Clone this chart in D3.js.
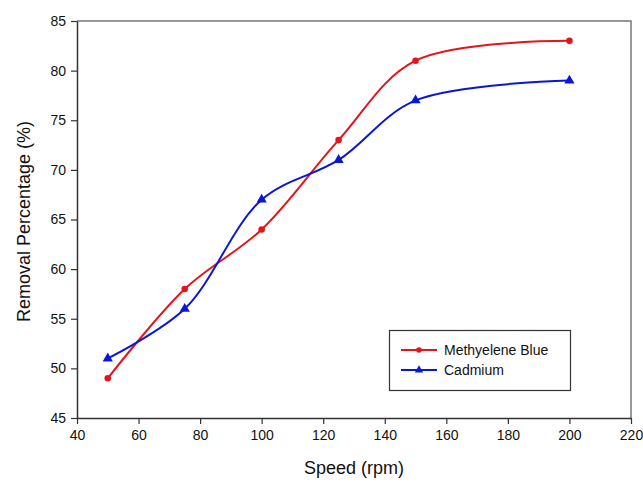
<!DOCTYPE html>
<html>
<head>
<meta charset="utf-8">
<script src="https://cdn.jsdelivr.net/npm/d3@7"></script>
<style>
  html, body { margin: 0; padding: 0; background: #fff; }
  svg { display: block; font-family: "Liberation Sans", Arial, sans-serif; }
</style>
</head>
<body>
<svg id="chart" width="643" height="483"></svg>
<script>
// Removal percentage against agitation speed
const speeds = [50, 75, 100, 125, 150, 200];
const methyleneBlue = [49, 58, 64, 73, 81, 83];
const cadmium = [51, 56, 67, 71, 77, 79];
const xTicks = [40, 60, 80, 100, 120, 140, 160, 180, 200, 220];
const yTicks = [45, 50, 55, 60, 65, 70, 75, 80, 85];
const seriesNames = ["Methyelene Blue", "Cadmium"];
const seriesColors = ["#e3141c", "#0a16d6"];

const svg = d3.select("#chart");
const plotLeft = 77, plotRight = 631, plotTop = 21, plotBottom = 418;

const x = d3.scaleLinear().domain([40, 220]).range([plotLeft, plotRight]);
const y = d3.scaleLinear().domain([45, 85]).range([plotBottom, plotTop]);

// Frame (top and right edges)
svg.append("path")
  .attr("d", `M${plotLeft},${plotTop}H${plotRight}V${plotBottom}`)
  .attr("fill", "none").attr("stroke", "#777").attr("stroke-width", 1.5);

const xAxis = svg.append("g").attr("transform", `translate(0,${plotBottom})`)
  .call(d3.axisBottom(x).tickValues(xTicks).tickSize(6).tickSizeOuter(0).tickPadding(6));
const yAxis = svg.append("g").attr("transform", `translate(${plotLeft},0)`)
  .call(d3.axisLeft(y).tickValues(yTicks).tickSize(6).tickSizeOuter(0).tickPadding(5));

[xAxis, yAxis].forEach(g => {
  g.select(".domain").attr("stroke", "#333").attr("stroke-width", 1.5);
  g.selectAll(".tick line").attr("stroke", "#333").attr("stroke-width", 1.2);
  g.selectAll(".tick text").attr("fill", "#111").style("font-size", "14px")
    .style("font-family", "'Liberation Sans', Arial, sans-serif");
});

// Axis titles
svg.append("text")
  .attr("x", 354).attr("y", 474)
  .attr("text-anchor", "middle").style("font-size", "18px").attr("fill", "#111")
  .text("Speed (rpm)");
svg.append("text")
  .attr("transform", `translate(30,${(plotTop + plotBottom) / 2 + 2}) rotate(-90)`)
  .attr("text-anchor", "middle").style("font-size", "18px").attr("fill", "#111")
  .text("Removal Percentage (%)");

const line = d3.line()
  .x(d => x(d[0])).y(d => y(d[1]))
  .curve(d3.curveCatmullRom.alpha(0.5));

const series = [methyleneBlue, cadmium];
const triangle = d3.symbol().type(d3.symbolTriangle).size(45);

series.forEach((vals, i) => {
  const pts = speeds.map((s, j) => [s, vals[j]]);
  svg.append("path").datum(pts)
    .attr("d", line).attr("fill", "none")
    .attr("stroke", seriesColors[i]).attr("stroke-width", 2);
  const g = svg.append("g");
  if (i === 0) {
    g.selectAll("circle").data(pts).join("circle")
      .attr("cx", d => x(d[0])).attr("cy", d => y(d[1])).attr("r", 3.3)
      .attr("fill", seriesColors[i]);
  } else {
    g.selectAll("path").data(pts).join("path")
      .attr("d", triangle)
      .attr("transform", d => `translate(${x(d[0])},${y(d[1])})`)
      .attr("fill", seriesColors[i]);
  }
});

// Legend
const lg = svg.append("g");
lg.append("rect").attr("x", 389.5).attr("y", 330.5).attr("width", 181).attr("height", 60)
  .attr("fill", "#fff").attr("stroke", "#333").attr("stroke-width", 1.2);
seriesNames.forEach((name, i) => {
  const ly = 350 + i * 20;
  lg.append("line").attr("x1", 401).attr("x2", 437).attr("y1", ly).attr("y2", ly)
    .attr("stroke", seriesColors[i]).attr("stroke-width", 2);
  if (i === 0) {
    lg.append("circle").attr("cx", 419).attr("cy", ly).attr("r", 2.8).attr("fill", seriesColors[i]);
  } else {
    lg.append("path").attr("d", d3.symbol().type(d3.symbolTriangle).size(30))
      .attr("transform", `translate(419,${ly})`).attr("fill", seriesColors[i]);
  }
  lg.append("text").attr("x", 444).attr("y", ly + 5)
    .style("font-size", "14px").attr("fill", "#111").text(name);
});
</script>
</body>
</html>
